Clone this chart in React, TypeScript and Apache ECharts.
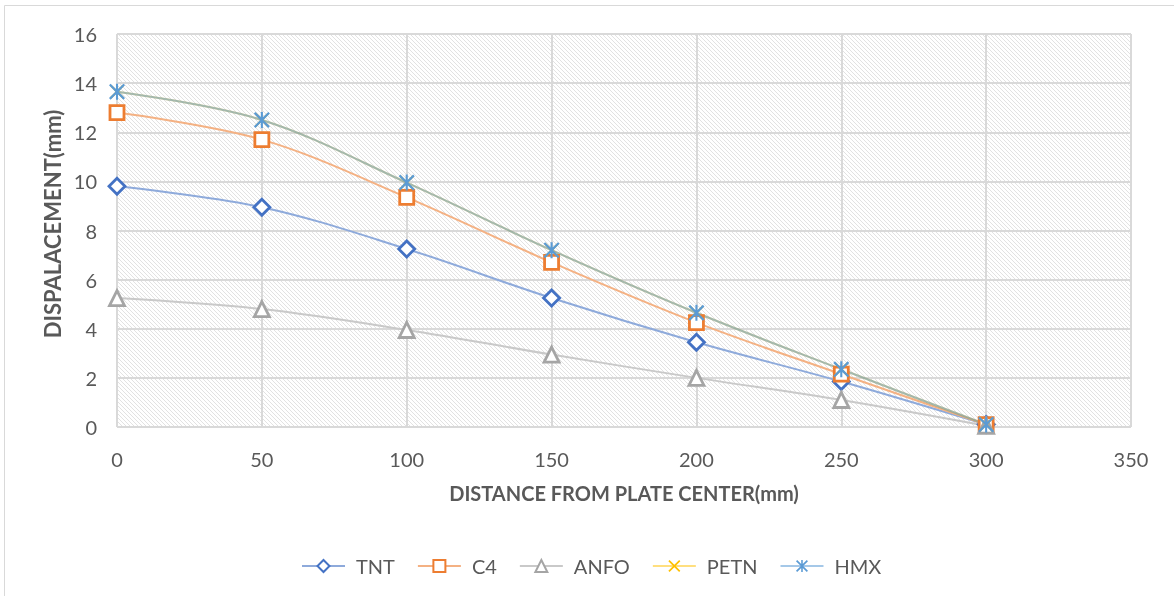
import React, { useEffect, useRef } from "react";
import * as echarts from "echarts";

// Distance from the plate centre (mm)
const distances = [0, 50, 100, 150, 200, 250, 300];

// Plate displacement (mm) per explosive
const tnt = [9.8, 8.95, 7.25, 5.25, 3.45, 1.85, 0.1];
const c4 = [12.8, 11.7, 9.35, 6.7, 4.25, 2.15, 0.1];
const anfo = [5.25, 4.8, 3.95, 2.95, 2.0, 1.1, 0.05];
const petn = [13.65, 12.5, 9.95, 7.2, 4.65, 2.35, 0.1];
const hmx = [13.65, 12.5, 9.95, 7.2, 4.65, 2.35, 0.1];

const seriesNames = ["TNT", "C4", "ANFO", "PETN", "HMX"];

const X_PATH =
  "path://M0,1 L1,0 L5,4 L9,0 L10,1 L6,5 L10,9 L9,10 L5,6 L1,10 L0,9 L4,5 Z";
const STAR_PATH =
  "path://M0,1 L1,0 L5,4 L9,0 L10,1 L6,5 L10,9 L9,10 L5,6 L1,10 L0,9 L4,5 Z M4.35,0 L5.65,0 L5.65,10 L4.35,10 Z";

const hatchSvg =
  "data:image/svg+xml;charset=utf-8," +
  encodeURIComponent(
    '<svg xmlns="http://www.w3.org/2000/svg" width="4" height="4">' +
      '<rect width="4" height="4" fill="#ffffff"/>' +
      '<path d="M-1,-1 L5,5 M-1,3 L1,5 M3,-1 L5,1" stroke="#e2e2e2" stroke-width="1"/>' +
      "</svg>"
  );

const FONT = "Lato, 'Open Sans', sans-serif";

export default function App() {
  const ref = useRef<HTMLDivElement>(null);

  useEffect(() => {
    if (!ref.current) return;
    const chart = echarts.init(ref.current, undefined, { renderer: "svg" });

    const hatchImg = new Image();
    hatchImg.src = hatchSvg;

    const pair = (vals: number[]) => distances.map((d, i) => [d, vals[i]]);

    const makeSeries = (
      name: string,
      vals: number[],
      color: string,
      lineColor: string,
      symbol: string,
      size: number,
      filled: boolean,
      lineOpacity = 1
    ) => ({
      name,
      type: "line",
      data: pair(vals),
      smooth: 0.35,
      symbol,
      symbolSize: size,
      showAllSymbol: true,
      lineStyle: { color: lineColor, width: 2, opacity: lineOpacity },
      itemStyle: filled
        ? { color, borderWidth: 0 }
        : { color: "#ffffff", borderColor: color, borderWidth: 2.8 },
      emphasis: { disabled: true },
    });

    chart.setOption({
      animation: false,
      grid: {
        left: 117,
        right: 43,
        top: 34,
        bottom: 169,
        show: true,
        borderWidth: 0,
        backgroundColor: { image: hatchImg, repeat: "repeat" },
      },
      graphic: [
        {
          type: "rect",
          shape: { x: 4.5, y: 5.5, width: 1200, height: 620 },
          style: { fill: "none", stroke: "#d9d9d9", lineWidth: 1 },
          silent: true,
        },
        {
          type: "text",
          x: 52,
          y: 224,
          rotation: Math.PI / 2,
          style: {
            text: "DISPALACEMENT(mm)",
            fill: "#595959",
            font: `bold 22px ${FONT}`,
            align: "center",
            verticalAlign: "middle",
          },
        },
      ],
      xAxis: {
        type: "value",
        min: 0,
        max: 350,
        interval: 50,
        name: "DISTANCE FROM PLATE CENTER(mm)",
        nameLocation: "middle",
        nameGap: 56,
        nameTextStyle: {
          color: "#595959",
          fontSize: 20,
          fontWeight: "bold",
          fontFamily: FONT,
        },
        axisLine: { show: false },
        axisTick: { show: false },
        axisLabel: {
          color: "#595959",
          fontSize: 20,
          fontFamily: FONT,
          margin: 22,
        },
        splitLine: { show: true, lineStyle: { color: "#d9d9d9", width: 2 } },
      },
      yAxis: {
        type: "value",
        min: 0,
        max: 16,
        interval: 2,
        axisLine: { show: false },
        axisTick: { show: false },
        axisLabel: {
          color: "#595959",
          fontSize: 20,
          fontFamily: FONT,
          margin: 20,
        },
        splitLine: { show: true, lineStyle: { color: "#d9d9d9", width: 2 } },
      },
      legend: {
        data: seriesNames,
        left: 296,
        top: 551,
        itemWidth: 43,
        itemHeight: 15,
        itemGap: 22,
        textStyle: {
          color: "#595959",
          fontSize: 20,
          fontFamily: FONT,
          padding: [0, 0, 0, 6],
        },
      },
      series: [
        makeSeries("TNT", tnt, "#4472c4", "#8eaadb", "diamond", 16, false),
        makeSeries("C4", c4, "#ed7d31", "#f4b183", "rect", 14, false),
        makeSeries("ANFO", anfo, "#a5a5a5", "#c9c9c9", "triangle", 15, false),
        makeSeries("PETN", petn, "#ffc000", "#ffc000", X_PATH, 14, true, 0.5),
        makeSeries("HMX", hmx, "#5b9bd5", "#5b9bd5", STAR_PATH, 16, true, 0.55),
      ],
    });

    hatchImg.onload = () => chart.resize();

    return () => chart.dispose();
  }, []);

  return (
    <div
      ref={ref}
      style={{ position: "fixed", left: 0, top: 0, width: 1174, height: 596 }}
    />
  );
}
